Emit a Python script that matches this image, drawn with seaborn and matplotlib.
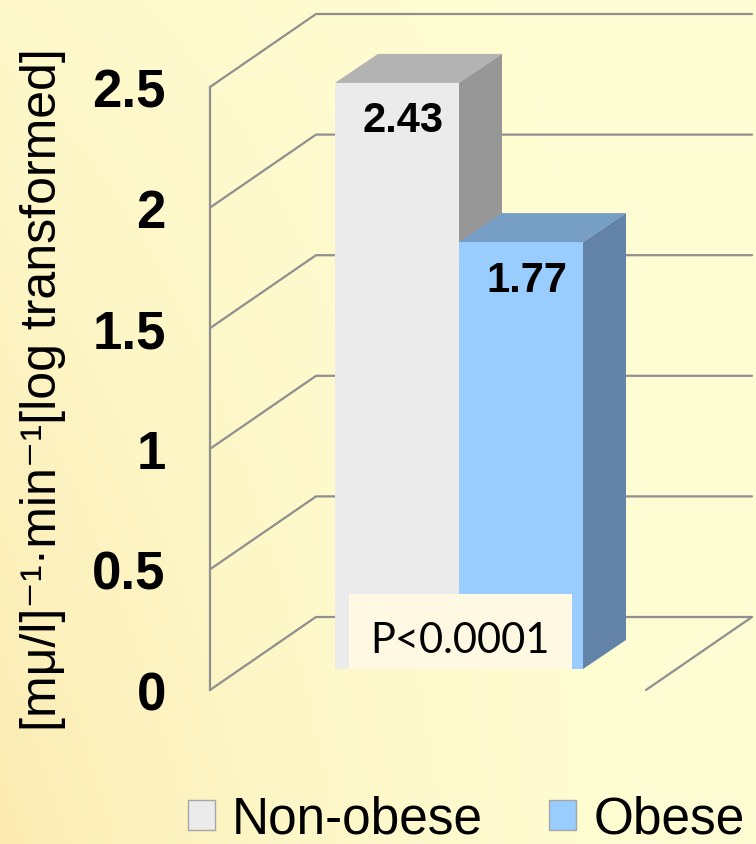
import numpy as np
import pandas as pd
import matplotlib
matplotlib.use('Agg')
import matplotlib.pyplot as plt
import seaborn as sns
from matplotlib.patches import Polygon, Rectangle, Patch
from matplotlib.lines import Line2D
from matplotlib.transforms import IdentityTransform

# Dados do gráfico
grupos = ['Non-obese', 'Obese']
valores = [2.43, 1.77]
rotulos_valor = ['2.43', '1.77']
marcas_y = [0, 0.5, 1, 1.5, 2, 2.5]
rotulos_y = ['0', '0.5', '1', '1.5', '2', '2.5']
texto_p = 'P<0.0001'
titulo_y = '[mμ/l]⁻¹·min⁻¹[log transformed]'

# Cores das faces das barras (frente, topo, lado)
cores_frente = ['#ebebeb', '#99ccff']
cores_topo = ['#b3b3b3', '#779fc6']
cores_lado = ['#979797', '#6384a8']
cor_grade = '#8f8f8f'

sns.set_style('white')
plt.rcParams['font.family'] = ['Liberation Sans', 'DejaVu Sans']
plt.rcParams['text.color'] = 'black'

W, H = 756, 845
fig = plt.figure(figsize=(W / 100, H / 100), dpi=100)

# Fundo em degradê amarelado
fundo = fig.add_axes([0, 0, 1, 1], zorder=-10)
xx, yy = np.meshgrid(np.linspace(0, 1, W), np.linspace(0, 1, H))
peso = np.clip((1 - xx) ** 2 * (0.25 + 0.75 * yy), 0, 1)[..., None]
claro = np.array(matplotlib.colors.to_rgb('#fffdd3'))
quente = np.array(matplotlib.colors.to_rgb('#fbebb2'))
fundo.imshow(claro * (1 - peso) + quente * peso, aspect='auto')
fundo.axis('off')

# Eixos: plano das barras e plano frontal (eixo y)
escala = 241.2
ax = fig.add_axes([241 / W, (H - 670) / H, 436 / W, 2.5 * escala / H], zorder=2)
ax_frente = fig.add_axes([210 / W, (H - 691) / H, 436 / W, 2.5 * escala / H], zorder=1)

dados = pd.DataFrame({'grupo': grupos, 'valor': valores})
sns.barplot(data=dados, x='grupo', y='valor', hue='grupo', palette=cores_frente,
            width=1, saturation=1, legend=False, linewidth=0, ax=ax)
ax.set_xlim(-1.258, 2.258)
ax.set_ylim(0, 2.5)
ax.axis('off')

ax_frente.set_xlim(ax.get_xlim())
ax_frente.set_ylim(0, 2.5)
ax_frente.set_facecolor('none')
sns.despine(ax=ax_frente, bottom=True)
ax_frente.spines['left'].set_color(cor_grade)
ax_frente.spines['left'].set_linewidth(1.6)
ax_frente.set_xticks([])
ax_frente.set_yticks(marcas_y, rotulos_y, fontsize=38, fontweight='bold')
ax_frente.tick_params(axis='y', length=10.8, width=1.6, color=cor_grade, labelcolor='black',
                      pad=21, direction='out')
ax_frente.set_ylabel(titulo_y, fontsize=36, color='black')
ax_frente.yaxis.set_label_coords(-0.33, 0.5)


def px(x, y, desloc=(0, 0)):
    return ax.transData.transform((x, y)) + np.array(desloc)


# Grade em perspectiva (parede de fundo e piso)
frente = (-31, -21)
tras = (75, 52)
xmin, xmax = ax.get_xlim()
for v in marcas_y:
    pts = [px(xmin, v, frente), px(xmin, v, tras), px(xmax, v, tras)]
    if v == 0:
        pts.append(px(xmax, 0, frente))
    xs, ys = zip(*pts)
    ax.add_line(Line2D(xs, ys, transform=IdentityTransform(), color=cor_grade,
                       lw=1.6, zorder=0.5, clip_on=False))

# Faces 3D das barras
prof = np.array([43, 29])
for i, barra in enumerate(list(ax.patches)):
    x0 = barra.get_x()
    x1 = x0 + barra.get_width()
    h = barra.get_height()
    a, b, c = px(x0, h), px(x1, h), px(x1, 0)
    z = 2 + i
    barra.set_zorder(z)
    ax.add_patch(Polygon([a, b, b + prof, a + prof], closed=True, transform=IdentityTransform(),
                         fc=cores_topo[i], lw=0, zorder=z, clip_on=False))
    ax.add_patch(Polygon([b, c, c + prof, b + prof], closed=True, transform=IdentityTransform(),
                         fc=cores_lado[i], lw=0, zorder=z, clip_on=False))

# Rótulos de valor
for i, (v, r) in enumerate(zip(valores, rotulos_valor)):
    ax.annotate(r, xy=(i, v), xytext=(4, -35), textcoords='offset points', color='black',
                ha='center', va='baseline', fontsize=30, fontweight='bold', zorder=6)

# Caixa do valor-p
ax.add_patch(Rectangle((-0.387, 0), 1.798, 0.31, fc='#fff8e2', lw=0, zorder=5, clip_on=False))
ax.text(0.512, 0.0704, texto_p, ha='center', va='baseline', fontsize=30, color='black',
        family=['Lato', 'DejaVu Sans'], zorder=6)

# Legenda
alcas = [Patch(fc=c, ec='#a6a6a6', lw=1) for c in cores_frente]
leg = fig.legend(alcas, grupos, loc='lower left', bbox_to_anchor=(188 / W, 0.0), ncol=2,
                 frameon=False, fontsize=37, handlelength=0.52, handleheight=0.52,
                 handletextpad=0.33, columnspacing=1.3, borderpad=0, borderaxespad=0)
for t in leg.get_texts():
    t.set_color('black')

fig.savefig('out.png', dpi=100)
